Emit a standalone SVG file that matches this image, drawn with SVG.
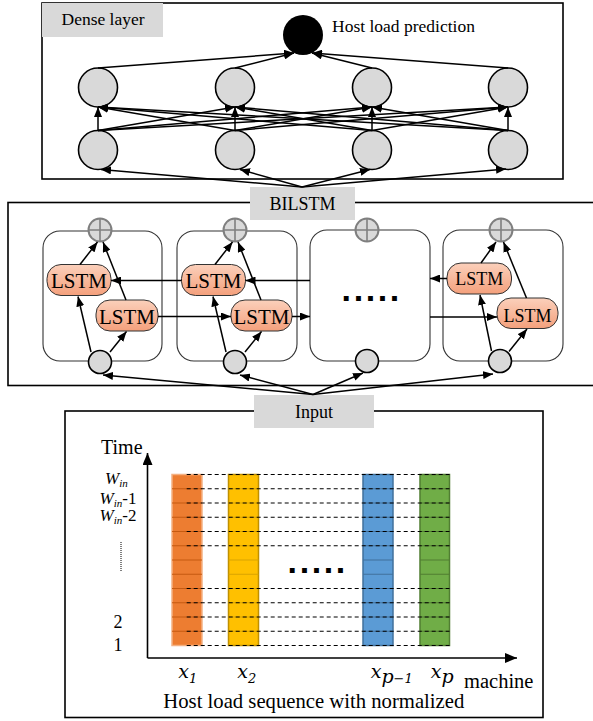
<svg xmlns="http://www.w3.org/2000/svg" width="593" height="721" viewBox="0 0 593 721">
<style>
text{font-family:"Liberation Serif","Times New Roman",serif;fill:#000}
.box{fill:#fff;stroke:#000;stroke-width:1.6}
.lab{fill:#d9d9d9}
.nd{fill:#d9d9d9;stroke:#000;stroke-width:1.6}
.cell{fill:#fff;stroke:#333;stroke-width:1.1}
.plus{fill:#d9d9d9;stroke:#7f7f7f;stroke-width:2}
.plusx{stroke:#7f7f7f;stroke-width:1.6}
.lstm{fill:url(#lg);stroke:#333;stroke-width:1}
.c{stroke:#000;stroke-width:1.5;fill:none;marker-end:url(#ah)}
.dash{stroke:#000;stroke-width:1.2;stroke-dasharray:4 3}
.dots{font-family:"Liberation Sans",Arial,sans-serif;font-weight:bold;font-size:34px;letter-spacing:2.6px}
.mx{font-family:"DejaVu Serif",serif;font-style:italic;font-size:19px}
.ms{font-family:"DejaVu Serif",serif;font-size:13px}
</style>
<defs>
<marker id="ah" viewBox="0 0 10 8" refX="10" refY="4" markerWidth="10" markerHeight="8" markerUnits="userSpaceOnUse" orient="auto"><path d="M0,0 L10,4 L0,8 z" fill="#000"/></marker>
<marker id="ah2" viewBox="0 0 12 10" refX="12" refY="5" markerWidth="12" markerHeight="10" markerUnits="userSpaceOnUse" orient="auto"><path d="M0,0 L12,5 L0,10 z" fill="#000"/></marker>
<linearGradient id="lg" x1="0" y1="0" x2="0" y2="1"><stop offset="0" stop-color="#fbd0bb"/><stop offset="1" stop-color="#f4a07c"/></linearGradient>
</defs>

<!-- Dense layer -->
<g id="dense-layer">
<rect class="box" x="42" y="3" width="521" height="176"/>
<rect class="lab" x="42" y="3" width="121" height="34"/>
<text x="61.5" y="25" font-size="17.5">Dense layer</text>
</g>
<g id="output-node">
<circle cx="303" cy="35" r="20" fill="#000"/>
<text x="332" y="32" font-size="17.5">Host load prediction</text>
</g>
<g id="dense-upper">
<circle class="nd" cx="98" cy="87.5" r="19.5"/>
<circle class="nd" cx="235" cy="87.5" r="19.5"/>
<circle class="nd" cx="372" cy="87.5" r="19.5"/>
<circle class="nd" cx="508" cy="87.5" r="19.5"/>
</g>
<g id="dense-lower">
<circle class="nd" cx="98" cy="150" r="19.5"/>
<circle class="nd" cx="235" cy="150" r="19.5"/>
<circle class="nd" cx="372" cy="150" r="19.5"/>
<circle class="nd" cx="508" cy="150" r="19.5"/>
</g>

<!-- BILSTM -->
<g id="bilstm-layer">
<rect class="box" x="8" y="202.5" width="600" height="183"/>
<rect class="lab" x="250" y="187" width="105" height="33"/>
<text x="302.5" y="210" font-size="18" text-anchor="middle">BILSTM</text>
</g>
<g id="cell1">
<rect class="cell" x="43" y="231" width="119" height="130" rx="17"/>
<circle class="plus" cx="100" cy="230" r="11.5"/>
<path class="plusx" d="M88.5,230H111.5M100,218.5V241.5"/>
<rect class="lstm" x="47" y="264.5" width="64" height="31" rx="14"/>
<text x="79" y="288.3" font-size="21" text-anchor="middle">LSTM</text>
<rect class="lstm" x="96" y="300" width="62" height="31" rx="14"/>
<text x="127" y="324" font-size="21" text-anchor="middle">LSTM</text>
<circle class="nd" cx="100" cy="362" r="11.5"/>
</g>
<g id="cell2">
<rect class="cell" x="177" y="231" width="120" height="130" rx="17"/>
<circle class="plus" cx="235" cy="230" r="11.5"/>
<path class="plusx" d="M223.5,230H246.5M235,218.5V241.5"/>
<rect class="lstm" x="181.5" y="264.5" width="64" height="31" rx="14"/>
<text x="213.5" y="288.3" font-size="21" text-anchor="middle">LSTM</text>
<rect class="lstm" x="231" y="300" width="61" height="31" rx="14"/>
<text x="261.5" y="324" font-size="21" text-anchor="middle">LSTM</text>
<circle class="nd" cx="235" cy="362" r="11.5"/>
</g>
<g id="cell3">
<rect class="cell" x="310" y="230" width="120" height="131" rx="17"/>
<circle class="plus" cx="367" cy="230" r="11.5"/>
<path class="plusx" d="M355.5,230H378.5M367,218.5V241.5"/>
<text class="dots" x="341.6" y="301">.....</text>
<circle class="nd" cx="367" cy="361" r="11.5"/>
</g>
<g id="cell4">
<rect class="cell" x="443" y="230" width="120" height="131" rx="17"/>
<circle class="plus" cx="501" cy="230" r="11.5"/>
<path class="plusx" d="M489.5,230H512.5M501,218.5V241.5"/>
<rect class="lstm" x="447" y="263" width="64.5" height="31" rx="14"/>
<text x="479.3" y="285.3" font-size="18" text-anchor="middle">LSTM</text>
<rect class="lstm" x="497" y="298" width="61" height="30.5" rx="14"/>
<text x="527.5" y="322" font-size="18" text-anchor="middle">LSTM</text>
<circle class="nd" cx="500" cy="361" r="11.5"/>
</g>

<!-- Input -->
<g id="input-layer">
<rect class="box" x="65" y="411" width="478" height="306.5"/>
<rect class="lab" x="254" y="395" width="120" height="33"/>
<text x="314" y="418" font-size="18" text-anchor="middle">Input</text>
</g>
<g id="columns">
<g id="col-x1">
<rect x="172" y="474.5" width="30" height="171" fill="#ed7d31" stroke="#f4b183" stroke-width="1.5"/>
<path stroke="#c55a11" stroke-width="1.2" d="M172,488.75H202M172,503H202M172,517.25H202M172,531.5H202M172,545.75H202M172,560H202M172,574.25H202M172,588.5H202M172,602.75H202M172,617H202M172,631.25H202"/>
</g>
<g id="col-x2">
<rect x="228.5" y="474.5" width="30" height="171" fill="#ffc000" stroke="#bf9000" stroke-width="1.5"/>
<path stroke="#d9a300" stroke-width="1.2" d="M228.5,488.75H258.5M228.5,503H258.5M228.5,517.25H258.5M228.5,531.5H258.5M228.5,545.75H258.5M228.5,560H258.5M228.5,574.25H258.5M228.5,588.5H258.5M228.5,602.75H258.5M228.5,617H258.5M228.5,631.25H258.5"/>
</g>
<g id="col-xp1">
<rect x="363" y="474.5" width="30" height="171" fill="#5b9bd5" stroke="#41719c" stroke-width="1.5"/>
<path stroke="#41719c" stroke-width="1.2" d="M363,488.75H393M363,503H393M363,517.25H393M363,531.5H393M363,545.75H393M363,560H393M363,574.25H393M363,588.5H393M363,602.75H393M363,617H393M363,631.25H393"/>
</g>
<g id="col-xp">
<rect x="420" y="474.5" width="29.5" height="171" fill="#70ad47" stroke="#507e32" stroke-width="1.5"/>
<path stroke="#507e32" stroke-width="1.2" d="M420,488.75H449.5M420,503H449.5M420,517.25H449.5M420,531.5H449.5M420,545.75H449.5M420,560H449.5M420,574.25H449.5M420,588.5H449.5M420,602.75H449.5M420,617H449.5M420,631.25H449.5"/>
</g>
<path class="dash" d="M186.7,474.5H449.5M186.7,488.75H449.5M186.7,503H449.5M186.7,517.25H449.5M186.7,531.5H449.5M186.7,545.75H449.5M186.7,588.5H449.5M186.7,602.75H449.5M186.7,617H449.5M186.7,631.25H449.5M186.7,645.5H449.5"/>
<text class="dots" x="287.6" y="572.5">.....</text>
</g>
<g id="axes">
<line x1="147.5" y1="658" x2="147.5" y2="453" stroke="#000" stroke-width="1.6" marker-end="url(#ah2)"/>
<line x1="147.5" y1="658" x2="517" y2="658" stroke="#000" stroke-width="1.6" marker-end="url(#ah2)"/>
<text x="101" y="454" font-size="20">Time</text>
<text x="105" y="484" font-size="17" font-style="italic">W<tspan font-size="11" dy="3">in</tspan></text>
<text x="99.5" y="503.5" font-size="17" font-style="italic">W<tspan font-size="11" dy="3">in</tspan><tspan font-style="normal" dy="-3">-1</tspan></text>
<text x="99.5" y="520.7" font-size="17" font-style="italic">W<tspan font-size="11" dy="3">in</tspan><tspan font-style="normal" dy="-3">-2</tspan></text>
<line x1="121" y1="542" x2="121" y2="572" stroke="#000" stroke-width="1" stroke-dasharray="1 1"/>
<text x="118" y="628.3" font-size="18" text-anchor="middle">2</text>
<text x="118" y="651" font-size="18" text-anchor="middle">1</text>
<text class="mx" x="178.3" y="677.5">x<tspan class="ms" dy="5">1</tspan></text>
<text class="mx" x="237.3" y="677.5">x<tspan class="ms" dy="5">2</tspan></text>
<text class="mx" x="370.7" y="677.5">x<tspan class="mx" font-size="13" dy="5">p</tspan><tspan class="ms">−1</tspan></text>
<text class="mx" x="430.7" y="677.5">x<tspan class="mx" font-size="13" dy="5">p</tspan></text>
<text x="464" y="688.3" font-size="20.5">machine</text>
<text x="163.3" y="708.3" font-size="20.7">Host load sequence with normalized</text>
</g>

<!-- Connectors -->
<g id="connectors">
<line class="c" x1="98" y1="68" x2="294" y2="53"/>
<line class="c" x1="235" y1="68" x2="294" y2="53"/>
<line class="c" x1="372" y1="68" x2="312" y2="53"/>
<line class="c" x1="508" y1="68" x2="312" y2="53"/>

<line class="c" x1="98" y1="130.5" x2="98" y2="107"/>
<line class="c" x1="98" y1="130.5" x2="235" y2="107"/>
<line class="c" x1="98" y1="130.5" x2="372" y2="107"/>
<line class="c" x1="98" y1="130.5" x2="508" y2="107"/>
<line class="c" x1="235" y1="130.5" x2="98" y2="107"/>
<line class="c" x1="235" y1="130.5" x2="235" y2="107"/>
<line class="c" x1="235" y1="130.5" x2="372" y2="107"/>
<line class="c" x1="235" y1="130.5" x2="508" y2="107"/>
<line class="c" x1="372" y1="130.5" x2="98" y2="107"/>
<line class="c" x1="372" y1="130.5" x2="235" y2="107"/>
<line class="c" x1="372" y1="130.5" x2="372" y2="107"/>
<line class="c" x1="372" y1="130.5" x2="508" y2="107"/>
<line class="c" x1="508" y1="130.5" x2="98" y2="107"/>
<line class="c" x1="508" y1="130.5" x2="235" y2="107"/>
<line class="c" x1="508" y1="130.5" x2="372" y2="107"/>
<line class="c" x1="508" y1="130.5" x2="508" y2="107"/>

<line class="c" x1="302" y1="187" x2="101" y2="169.5"/>
<line class="c" x1="302" y1="187" x2="240" y2="169.5"/>
<line class="c" x1="302" y1="187" x2="370" y2="169.5"/>
<line class="c" x1="302" y1="187" x2="506" y2="169"/>

<line class="c" x1="91" y1="352" x2="78" y2="296.5"/>
<line class="c" x1="110" y1="352" x2="126.5" y2="331.5"/>
<line class="c" x1="80" y1="264.5" x2="97.5" y2="242"/>
<line class="c" x1="126" y1="300" x2="103" y2="242"/>
<line class="c" x1="226" y1="352" x2="213" y2="296.5"/>
<line class="c" x1="245" y1="352" x2="261.5" y2="331.5"/>
<line class="c" x1="215" y1="264.5" x2="232.5" y2="242"/>
<line class="c" x1="261" y1="300" x2="238" y2="242"/>
<line class="c" x1="491.5" y1="351" x2="480" y2="295"/>
<line class="c" x1="509" y1="351.5" x2="527" y2="329"/>
<line class="c" x1="481" y1="263" x2="496" y2="242"/>
<line class="c" x1="526.5" y1="298" x2="503.5" y2="242"/>

<line class="c" x1="181.5" y1="280.5" x2="111" y2="280.5"/>
<line class="c" x1="310" y1="280.5" x2="245.5" y2="280.5"/>
<line class="c" x1="447" y1="278.5" x2="430" y2="278.5"/>
<line class="c" x1="158" y1="316.5" x2="231" y2="316.5"/>
<line class="c" x1="292" y1="316.5" x2="310" y2="316.5"/>
<line class="c" x1="430" y1="317" x2="497" y2="317"/>

<line class="c" x1="313" y1="394.5" x2="103" y2="375"/>
<line class="c" x1="313" y1="394.5" x2="240" y2="375"/>
<line class="c" x1="313" y1="394.5" x2="363" y2="373"/>
<line class="c" x1="313" y1="394.5" x2="493" y2="374"/>
</g>
</svg>
